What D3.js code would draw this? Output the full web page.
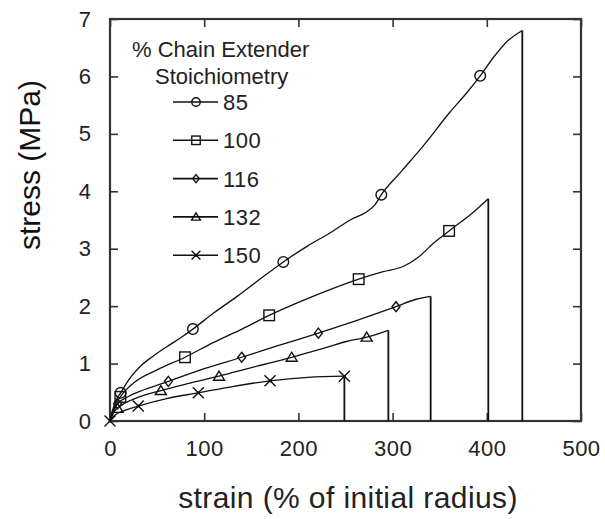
<!DOCTYPE html>
<html><head><meta charset="utf-8">
<script src="https://cdn.jsdelivr.net/npm/d3@7/dist/d3.min.js"></script>
<style>
html,body{margin:0;padding:0;background:#fff;}
svg{display:block;font-family:"Liberation Sans",Arial,sans-serif;}
</style></head>
<body>
<script>
// ---- data ----
const xTicks = [0, 100, 200, 300, 400, 500];
const yTicks = [0, 1, 2, 3, 4, 5, 6, 7];
const seriesNames = ["85", "100", "116", "132", "150"];
const markerTypes = ["circle", "square", "diamond", "triangle", "cross"];
const legendTitle = ["% Chain Extender", "Stoichiometry"];
const xLabel = "strain (% of initial radius)";
const yLabel = "stress (MPa)";

const curve85 = [[0,0],[3,0.2],[7,0.38],[11.3,0.49],[20,0.72],[32,0.95],[45,1.12],[60,1.29],[75,1.45],[88,1.6],[110,1.88],[135,2.17],[160,2.48],[184,2.77],[210,3.05],[233,3.27],[255,3.5],[274,3.66],[281,3.76],[288,3.94],[310,4.36],[333,4.8],[361,5.38],[379,5.72],[393,6.01],[407,6.33],[421,6.6],[437.7,6.8]];
const curve100 = [[0,0],[4,0.22],[11,0.42],[25,0.66],[50,0.89],[79.6,1.11],[110,1.37],[140,1.6],[169,1.84],[181,1.93],[220,2.2],[264,2.47],[290,2.6],[311,2.69],[328,2.86],[343,3.09],[360,3.31],[386,3.64],[401.6,3.87]];
const curve116 = [[0,0],[4,0.18],[8,0.3],[20,0.43],[35.4,0.54],[61.9,0.69],[100,0.91],[139.8,1.11],[180,1.32],[221.2,1.53],[260,1.74],[303.6,1.99],[325,2.12],[340.4,2.17]];
const curve132 = [[0,0],[4,0.15],[10,0.25],[25,0.38],[54,0.53],[85,0.66],[115.7,0.78],[150,0.93],[192.9,1.11],[230,1.28],[250,1.38],[272.5,1.46],[295.5,1.58]];
const curve150 = [[0,0],[5,0.1],[15,0.18],[30,0.26],[60,0.39],[93.7,0.49],[130,0.6],[169.9,0.7],[210,0.76],[248.8,0.78]];

const marks85 = [[11.3,0.49],[88,1.6],[184,2.77],[288,3.94],[393,6.01]];
const marks100 = [[11,0.42],[79.6,1.11],[169,1.84],[264,2.47],[360,3.31]];
const marks116 = [[8,0.3],[61.9,0.69],[139.8,1.11],[221.2,1.53],[303.6,1.99]];
const marks132 = [[8,0.22],[54,0.53],[115.7,0.78],[192.9,1.11],[272.5,1.46]];
const marks150 = [[0,0],[30,0.26],[93.7,0.49],[169.9,0.7],[248.8,0.78]];

const curves = [curve85, curve100, curve116, curve132, curve150];
const marks = [marks85, marks100, marks116, marks132, marks150];

// ---- drawing ----
const W = 605, H = 519;
const svg = d3.select("body").append("svg").attr("width", W).attr("height", H);
svg.append("rect").attr("width", W).attr("height", H).attr("fill", "#fff");

const x = d3.scaleLinear().domain([0, 500]).range([110, 581]);
const y = d3.scaleLinear().domain([0, 7]).range([421, 19]);
const ink = "#111";
const frameInk = "#333";

// axes with inward ticks
const tl = 8;
svg.append("g").attr("transform", `translate(0,${y(0)})`)
  .call(d3.axisBottom(x).tickValues(xTicks).tickSize(-tl).tickPadding(tl + 11).tickFormat(d3.format("d")))
  .call(g => { g.select(".domain").remove(); g.selectAll("line").attr("stroke", frameInk).attr("stroke-width", 1.6);
    g.selectAll("text").attr("font-size", 22).attr("fill", "#222").attr("font-family", "Liberation Sans, Arial").attr("letter-spacing", 0.5); });
svg.append("g").attr("transform", `translate(0,${y(7)})`)
  .call(d3.axisTop(x).tickValues(xTicks).tickSize(-tl).tickFormat(""))
  .call(g => { g.select(".domain").remove(); g.selectAll("line").attr("stroke", frameInk).attr("stroke-width", 1.6); });
svg.append("g").attr("transform", `translate(${x(0)},0)`)
  .call(d3.axisLeft(y).tickValues(yTicks).tickSize(-tl).tickPadding(tl + 11).tickFormat(d3.format("d")))
  .call(g => { g.select(".domain").remove(); g.selectAll("line").attr("stroke", frameInk).attr("stroke-width", 1.6);
    g.selectAll("text").attr("font-size", 22).attr("fill", "#222").attr("font-family", "Liberation Sans, Arial"); });
svg.append("g").attr("transform", `translate(${x(500)},0)`)
  .call(d3.axisRight(y).tickValues(yTicks).tickSize(-tl).tickFormat(""))
  .call(g => { g.select(".domain").remove(); g.selectAll("line").attr("stroke", frameInk).attr("stroke-width", 1.6); });

// frame
svg.append("rect").attr("x", x(0)).attr("y", y(7)).attr("width", x(500) - x(0)).attr("height", y(0) - y(7))
  .attr("fill", "none").attr("stroke", frameInk).attr("stroke-width", 2.2);

// curves
const line = d3.line().x(d => x(d[0])).y(d => y(d[1])).curve(d3.curveMonotoneX);
curves.forEach(c => {
  svg.append("path").attr("d", line(c)).attr("fill", "none").attr("stroke", ink).attr("stroke-width", 1.3);
  const last = c[c.length - 1];
  svg.append("line").attr("x1", x(last[0])).attr("x2", x(last[0])).attr("y1", y(last[1])).attr("y2", y(0))
    .attr("stroke", ink).attr("stroke-width", 1.8);
});

function drawMarker(g, type, cx, cy, s) {
  const st = { fill: "none", stroke: ink, "stroke-width": 1.4 };
  const apply = sel => { Object.entries(st).forEach(([k, v]) => sel.attr(k, v)); return sel; };
  if (type === "circle") apply(g.append("circle").attr("cx", cx).attr("cy", cy).attr("r", 5.3 * s));
  else if (type === "square") apply(g.append("rect").attr("x", cx - 5.3 * s).attr("y", cy - 5.3 * s).attr("width", 10.6 * s).attr("height", 10.6 * s));
  else if (type === "diamond") apply(g.append("path").attr("d", `M${cx},${cy - 5 * s}L${cx + 4 * s},${cy}L${cx},${cy + 5 * s}L${cx - 4 * s},${cy}Z`));
  else if (type === "triangle") apply(g.append("path").attr("d", `M${cx},${cy - 5 * s}L${cx + 5.5 * s},${cy + 4 * s}L${cx - 5.5 * s},${cy + 4 * s}Z`));
  else if (type === "cross") {
    const r = 5.5 * s;
    apply(g.append("path").attr("d", `M${cx - r},${cy - r}L${cx + r},${cy + r}M${cx - r},${cy + r}L${cx + r},${cy - r}`));
    g.append("circle").attr("cx", cx).attr("cy", cy).attr("r", 1.5).attr("fill", ink);
  }
}

marks.forEach((ms, i) => {
  const g = svg.append("g");
  ms.forEach(d => drawMarker(g, markerTypes[i], x(d[0]), y(d[1]), 1));
});

// legend
svg.append("text").attr("x", 132).attr("y", 57).attr("font-size", 22).attr("fill", "#222").text(legendTitle[0]);
svg.append("text").attr("x", 155).attr("y", 84).attr("font-size", 22).attr("fill", "#222").text(legendTitle[1]);
seriesNames.forEach((n, i) => {
  const cy = 102 + i * 38.3;
  const g = svg.append("g");
  g.append("line").attr("x1", 173).attr("x2", 218).attr("y1", cy).attr("y2", cy).attr("stroke", ink).attr("stroke-width", 1.6);
  drawMarker(g, markerTypes[i], 196, cy, 0.8);
  g.append("text").attr("x", 223).attr("y", cy + 8).attr("font-size", 22).attr("fill", "#222").attr("letter-spacing", 0.5).text(n);
});

// axis titles
svg.append("text").attr("x", 348).attr("y", 508).attr("text-anchor", "middle").attr("font-size", 30).attr("fill", "#222")
  .attr("letter-spacing", 0.4).text(xLabel);
svg.append("text").attr("transform", "translate(40,165) rotate(-90)").attr("text-anchor", "middle").attr("font-size", 30)
  .attr("fill", "#111").text(yLabel);
</script>
</body></html>
